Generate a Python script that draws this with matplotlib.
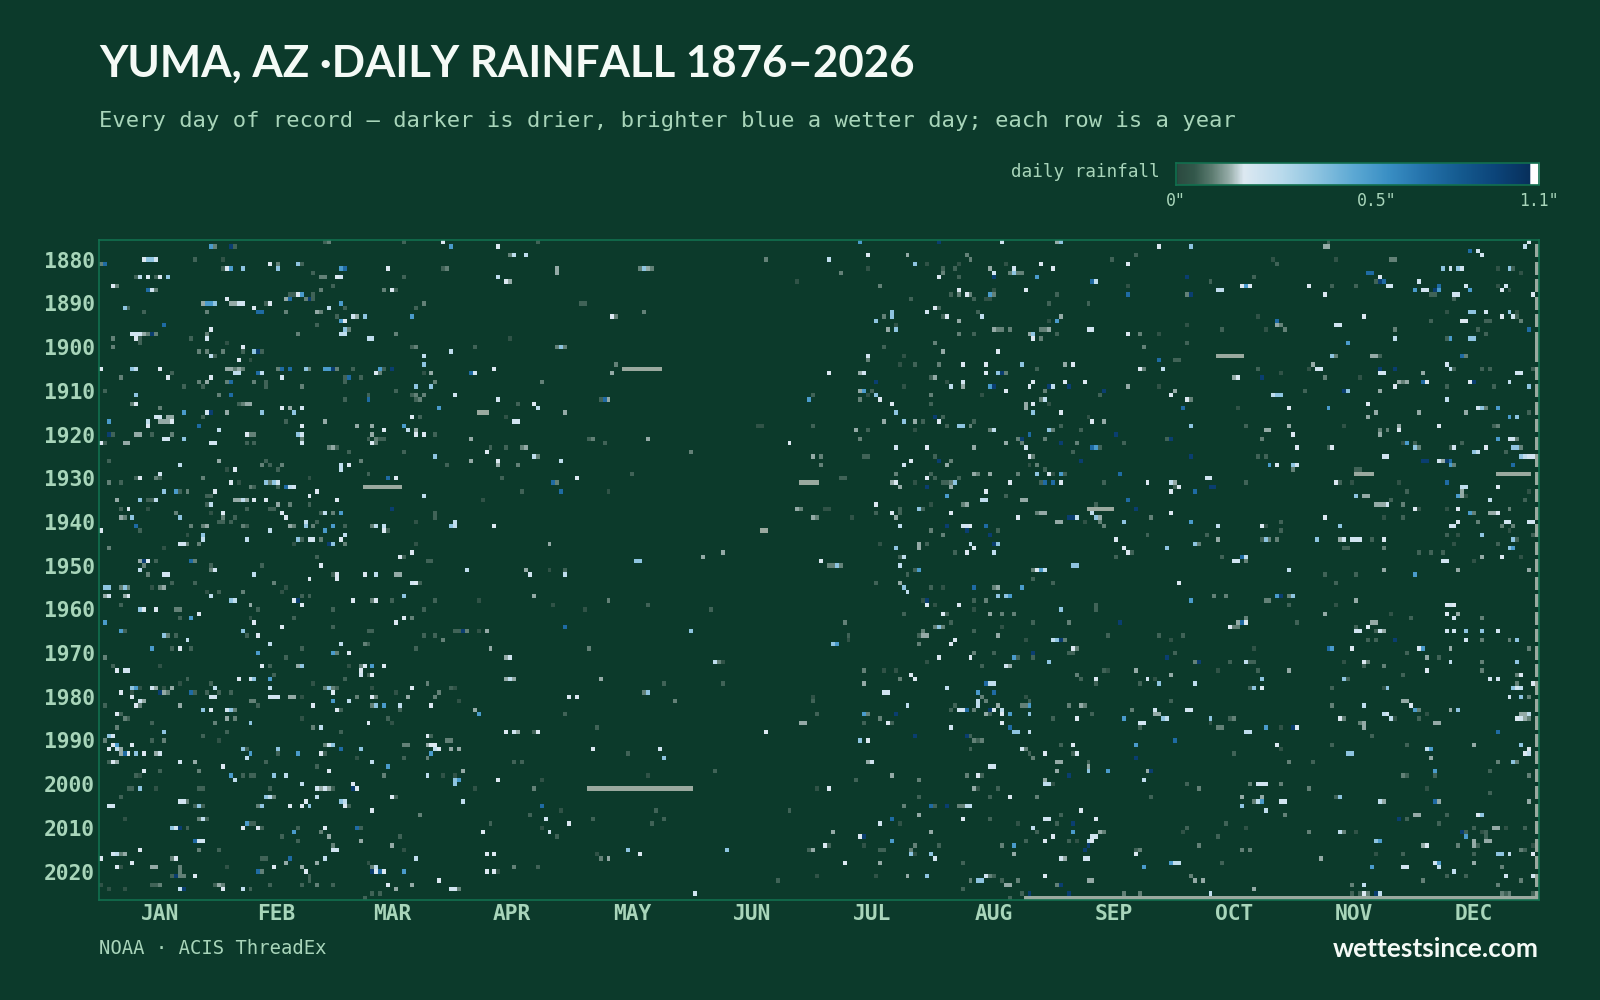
import calendar

import matplotlib
matplotlib.use("Agg")
import matplotlib.pyplot as plt
import numpy as np
from matplotlib.colors import LinearSegmentedColormap, PowerNorm

BG = "#0c3a2b"
FRAME = "#12704f"
MINT = "#a8d5ba"
MISSING = "#9aa99f"

F, D, G, S = 0.012, 0.03, 0.055, 0.085
W, P, L, K = 0.12, 0.15, 0.2, 0.32
M, B, N = 0.5, 0.72, 1.0

first_year = 1876
last_year = 2026
month_names = ["JAN", "FEB", "MAR", "APR", "MAY", "JUN", "JUL", "AUG", "SEP", "OCT", "NOV", "DEC"]
month_days = [31, 28, 31, 30, 31, 30, 31, 31, 30, 31, 30, 31]
year_ticks = list(range(1880, 2021, 10))

# each row: year, then day-of-year index and amount pairs
jan_mar = [
    (1876, 57,D, 58,G, 77,D),
    (1877, 28,M, 29,G, 33,N, 34,D),
    (1880, 11,W, 12,K, 13,K, 14,P, 24,D, 31,F),
    (1881, 0,G, 1,B, 43,W, 45,G, 50,K, 51,D),
    (1882, 31,D, 32,W, 33,M, 36,K, 45,K, 61,M, 62,B, 73,W),
    (1883, 54,D),
    (1884, 9,D, 10,L, 12,W, 14,D, 15,W, 17,K, 56,G, 57,G, 60,W, 61,P, 77,D),
    (1886, 3,W, 4,G, 59,D),
    (1887, 12,B, 13,P, 14,G, 56,G, 72,G, 74,W, 75,D),
    (1888, 48,D, 49,D, 50,W, 51,M, 54,D),
    (1889, 32,W, 47,S, 48,B, 52,G, 53,N, 54,D),
    (1890, 26,S, 27,M, 28,M, 29,K, 33,S, 34,S, 35,P, 36,P, 42,D, 43,W, 61,M, 82,G),
    (1891, 6,K, 7,D, 39,W, 58,L, 62,D, 80,D),
    (1892, 11,D, 27,G, 40,B, 41,B, 47,G, 55,S, 56,G),
    (1893, 60,D, 64,P, 65,S, 67,K, 79,M),
    (1894, 61,M, 62,W),
    (1895, 16,B, 55,D),
    (1896, 28,W, 62,K, 63,G),
    (1897, 8,P, 9,P, 10,P, 11,S, 12,G, 13,N, 14,G, 27,G, 50,G, 61,L, 62,L, 75,G),
    (1898, 3,G, 9,W, 10,D, 23,D, 27,P, 68,L, 69,L),
    (1899, 10,D, 32,F),
    (1900, 3,G, 36,W, 79,D, 80,G),
    (1901, 25,G, 27,G, 31,G, 36,D, 39,K, 40,N, 41,D),
    (1902, 28,L, 29,D, 82,L),
    (1903, 35,W, 38,F),
    (1904, 82,K),
    (1905, 0,W, 8,K, 9,L, 15,W, 32,S, 33,S, 34,G, 35,S, 36,G, 45,G, 46,B, 48,B, 52,K, 53,G,
     57,M, 58,M, 59,N, 60,G, 64,D, 71,M, 72,D, 74,N),
    (1906, 18,D, 34,L, 35,L, 40,B, 41,L, 70,W, 71,G, 82,F, 84,S),
    (1907, 5,G, 17,W, 28,W, 46,P, 62,D, 63,B, 66,D),
    (1908, 25,G, 27,S, 32,G, 33,B, 39,G, 42,D, 62,D, 85,G),
    (1909, 21,D, 26,D, 42,D, 51,G, 80,K, 84,K),
    (1910, 1,D, 75,D),
    (1911, 9,K, 30,G, 33,B, 68,D, 79,D, 80,G, 82,G),
    (1912, 62,D, 68,B, 80,D, 81,G),
    (1913, 8,G, 9,W, 35,D, 36,G, 37,S, 38,S),
    (1914, 15,G, 46,W, 48,S, 51,P, 86,B),
    (1915, 21,M, 27,P, 28,N, 32,S, 41,K, 49,K),
    (1916, 14,P, 15,P, 17,S, 18,S, 26,D, 79,W, 81,D),
    (1917, 2,M, 12,L, 15,S, 16,S, 17,S, 18,W, 47,D, 57,S),
    (1918, 12,W, 25,B, 51,W, 65,S, 69,S, 77,M),
    (1919, 30,L, 72,W, 78,L, 80,S),
    (1920, 2,N, 3,D, 9,S, 10,S, 13,D, 18,G, 37,W, 38,G, 39,G, 50,K, 51,P, 69,S, 80,W, 82,W, 85,D),
    (1921, 16,P, 17,P, 21,K, 51,G, 68,D, 70,G, 71,D, 72,D),
    (1922, 0,W, 1,D, 6,S, 7,S, 28,P, 29,P, 37,D, 39,D, 51,P, 69,W, 70,G),
    (1923, 58,G, 59,S, 60,D),
    (1924, 63,D, 77,D),
    (1925, 85,K),
    (1926, 2,D, 30,S, 42,D, 66,G),
    (1927, 20,L, 41,G, 43,D, 46,G, 61,L, 63,W),
    (1928, 32,F, 34,W, 45,D, 61,L),
    (1929, 15,P, 68,D),
    (1930, 9,D, 10,W, 14,G, 15,D, 26,G, 53,F, 73,B, 75,W),
    (1931, 2,G, 5,D, 33,W, 35,F, 42,K, 43,G, 44,K, 45,P),
    (1932, 38,G, 39,D, 45,D, 47,B, 48,L, 49,P),
    (1933, 16,K, 19,M, 20,D, 22,G, 29,W, 55,W),
    (1934, 27,D, 28,D, 53,W, 82,L),
    (1935, 4,S, 10,K, 12,D, 13,D, 14,L, 34,S, 35,S, 36,L, 37,S, 39,W, 42,W, 60,W),
    (1936, 27,D, 28,L, 45,S, 48,G, 53,D),
    (1937, 5,D, 7,W, 12,F, 37,D, 43,D, 44,D, 74,N),
    (1938, 19,G, 28,F, 31,W, 46,W, 56,D, 57,L, 59,G, 61,M, 85,D),
    (1939, 5,S, 6,G, 8,K, 20,K, 31,G, 34,D, 47,W, 85,D),
    (1940, 30,D, 31,D, 33,D, 52,L, 55,D, 80,F),
    (1941, 9,B, 23,G, 26,G, 27,S, 36,G, 37,D, 48,S, 49,G, 52,K, 54,G, 59,M, 62,D, 69,G, 70,L, 72,L),
    (1942, 0,W, 10,D, 43,L, 57,M, 72,W, 73,D),
    (1943, 22,F, 26,K, 62,L),
    (1944, 26,L, 37,L, 50,K, 51,D, 53,P, 54,P, 56,G, 61,W),
    (1945, 20,P, 21,P, 22,G, 25,G, 49,F, 58,N, 59,K, 62,G, 80,F),
    (1946, 2,G, 16,F),
    (1947, 79,W),
    (1948, 55,D, 76,W, 77,D),
    (1949, 10,S, 11,N, 12,W, 14,D, 23,B, 24,G, 83,D, 84,D),
    (1950, 11,G, 28,D, 41,D, 56,W),
    (1951, 10,L, 28,G, 29,P),
    (1952, 12,G, 16,P, 17,P, 39,L, 59,D, 60,W, 67,W, 70,L, 75,S, 76,S),
    (1953, 53,W, 60,W),
    (1954, 18,D, 24,D, 44,G, 79,P, 80,W, 81,D),
    (1955, 1,K, 2,K, 5,G, 6,K, 7,G, 13,F, 15,G, 16,S, 47,F),
    (1956, 27,F, 30,D, 36,G, 46,F),
    (1957, 1,S, 2,P, 6,S, 7,W, 28,L, 51,D, 53,D, 77,K),
    (1958, 33,K, 34,L, 49,W, 50,N, 64,W, 69,G, 70,W, 74,D, 85,D),
    (1959, 5,D, 38,S, 51,W),
    (1960, 10,K, 11,W, 14,W, 19,G, 20,G, 40,D, 59,D, 82,D),
    (1961, 25,W),
    (1962, 20,D, 23,M, 38,F, 49,D, 77,W, 79,G),
    (1963, 1,M, 39,W, 75,W),
    (1964, 46,W, 59,D),
    (1965, 5,M, 6,D, 36,K, 68,D, 69,D),
    (1966, 16,K, 17,G, 19,D, 37,D, 40,W, 82,D, 85,D),
    (1967, 22,L),
    (1968, 43,L, 61,L, 67,G, 68,D),
    (1969, 13,M, 18,D, 20,W, 23,D, 51,D, 80,D),
    (1970, 40,M, 59,M, 60,G, 63,W),
    (1971, 1,G, 47,D),
    (1973, 3,D, 15,F, 41,W, 43,D, 50,S, 51,K, 63,F, 66,G, 67,W, 69,M, 72,W),
    (1974, 4,W, 6,P, 7,P, 66,W),
    (1975, 44,D, 66,P, 68,D, 69,W),
    (1976, 22,D, 35,W, 38,P, 39,K, 43,M, 62,D),
    (1977, 20,F, 28,D, 54,F, 83,G),
    (1978, 8,K, 9,M, 10,F, 13,P, 14,S, 16,F, 18,S, 29,L, 43,L, 57,G, 58,K, 59,G, 60,D, 69,F, 79,W),
    (1979, 5,W, 8,F, 15,N, 16,S, 17,G, 23,B, 24,D, 27,D, 30,D, 33,D, 59,W, 75,F, 86,G),
    (1980, 8,W, 28,P, 29,P, 43,P, 44,P, 45,P, 48,S, 49,S, 51,F, 65,G, 69,W, 70,G, 78,S, 85,G),
    (1981, 10,P, 11,S, 38,G, 39,G, 59,M, 63,L),
    (1982, 1,D, 9,W, 10,G, 20,S, 40,D, 54,W, 69,G, 70,K, 72,M, 76,L, 84,W),
    (1983, 26,K, 28,W, 32,P, 33,K, 34,G, 60,W, 61,D, 76,D),
    (1984, 4,W, 5,D),
    (1985, 6,G, 7,D, 32,S, 34,G, 51,F, 73,D),
    (1986, 13,D, 29,G, 38,K, 68,W, 74,F),
    (1987, 4,G, 54,G, 56,L),
    (1988, 16,K, 32,D, 61,D),
    (1989, 2,K, 3,P, 26,D, 83,W, 84,D),
    (1990, 1,G, 13,D, 16,G, 30,F),
    (1991, 3,W, 4,M, 8,W, 57,G, 58,P, 59,K, 77,G, 78,G, 83,S, 84,W, 85,W),
    (1992, 2,W, 4,L, 5,S, 36,K, 37,D, 45,K, 61,B, 66,K, 85,L, 86,L),
    (1993, 5,S, 6,B, 7,W, 9,K, 11,W, 14,S, 15,P, 38,M, 45,D, 50,M, 56,W, 57,D, 84,M),
    (1994, 37,L, 65,F, 77,D, 83,G),
    (1995, 2,D, 3,W, 4,S, 20,P, 24,S, 42,D, 69,L),
    (1996, 31,W, 55,D, 73,M),
    (1997, 11,W, 15,D, 25,G, 58,W),
    (1998, 9,D, 10,F, 33,M, 36,D, 38,D, 39,D, 44,K, 47,L, 72,G, 83,L),
    (1999, 34,L),
    (2000, 51,L, 64,W),
    (2001, 7,D, 8,D, 10,K, 14,F, 25,D, 26,D, 43,D, 55,P, 56,S, 57,P, 58,S, 59,D, 64,N, 65,W),
    (2003, 5,D, 42,K, 43,L, 44,G, 55,L, 74,W, 75,D),
    (2004, 20,P, 21,P, 22,G, 52,W, 61,K, 62,L),
    (2005, 2,P, 3,P, 24,D, 25,K, 26,D, 40,G, 41,K, 48,W, 51,W, 53,K, 62,W, 63,D),
    (2006, 69,W),
    (2007, 81,G),
    (2008, 6,F, 25,G, 26,L, 27,D),
    (2009, 37,M, 38,D, 39,D),
    (2010, 18,K, 19,P, 20,N, 22,D, 36,W, 40,W, 41,D, 50,D, 57,W, 65,B, 66,D),
    (2011, 49,M, 56,G),
    (2012, 46,D, 58,S, 76,D),
    (2013, 24,B, 25,P, 26,P, 50,D, 66,S),
    (2014, 59,G, 74,S),
    (2015, 10,W, 25,G, 30,D, 59,P, 60,P, 77,F),
    (2016, 3,P, 4,L, 5,G, 6,S),
    (2017, 0,W, 18,G, 19,W, 41,D, 42,D, 48,B, 57,L, 80,L),
    (2018, 8,W, 47,S, 55,S, 68,F),
    (2019, 4,W, 5,F, 13,S, 14,S, 20,G, 32,F, 44,W, 51,S, 69,G, 70,L),
    (2020, 20,G, 40,B, 41,G, 52,W, 69,N, 70,W, 71,B, 72,W, 77,M),
    (2021, 18,D, 19,N, 20,G, 21,G, 24,W, 53,D),
    (2022, 53,D, 86,W),
    (2023, 0,F, 13,D, 14,D, 15,G, 29,D, 30,S, 31,G, 43,D, 51,D, 55,G, 59,D, 73,W, 79,S),
    (2024, 2,F, 6,F, 20,L, 21,N, 31,W, 36,L, 38,D, 75,S),
    (2025, 69,D, 71,D),
    (2026, 67,D),
]

apr_jul = [
    (1876, 87,W, 111,D, 193,M, 213,N),
    (1877, 89,M, 101,W),
    (1879, 104,G, 105,L, 108,L, 195,W, 205,S),
    (1880, 169,G, 185,L),
    (1881, 207,K, 210,F),
    (1882, 87,D, 88,G, 116,S, 137,G, 138,K, 139,S, 140,G, 195,F),
    (1883, 116,S, 188,G),
    (1884, 101,L, 213,W),
    (1885, 103,W, 104,S, 177,F),
    (1886, 198,G),
    (1889, 206,D),
    (1890, 122,D, 123,D),
    (1891, 212,W, 213,G),
    (1892, 138,G, 210,P, 201,K),
    (1893, 130,W, 131,G, 199,G, 201,K),
    (1894, 197,K),
    (1895, 202,F),
    (1896, 200,S, 202,K),
    (1898, 104,F),
    (1899, 212,G),
    (1900, 95,D, 116,G, 117,K, 118,G, 199,D),
    (1901, 89,L),
    (1902, 195,P, 204,F),
    (1903, 195,G),
    (1904, 131,G, 203,F, 207,D, 213,G),
    (1905, 100,W),
    (1906, 94,B, 95,P, 130,S, 185,W, 193,S, 194,P),
    (1907, 211,D, 212,S),
    (1908, 112,G, 197,N),
    (1909, 204,F),
    (1910, 193,S, 194,M, 196,D),
    (1911, 90,P, 181,D, 195,F, 197,K, 211,G),
    (1912, 101,P, 127,D, 128,B, 129,S, 180,M, 193,G, 198,W),
    (1913, 106,D, 110,W, 201,W, 211,D),
    (1914, 86,M, 111,L),
    (1915, 118,S, 202,K),
    (1916, 103,F, 212,N),
    (1917, 105,P, 106,P, 199,S, 204,K, 207,S, 209,D, 213,L),
    (1918, 167,F, 168,F, 181,D),
    (1919, 192,S, 195,D, 207,F),
    (1921, 94,S, 124,D, 125,G, 139,S, 193,G),
    (1922, 128,D, 175,W),
    (1923, 99,D, 103,D, 107,G, 108,S, 202,P, 210,W),
    (1924, 98,W, 150,G),
    (1925, 110,L, 111,G, 181,S, 183,G, 194,D, 195,D, 212,D),
    (1926, 94,S, 101,W, 117,L, 206,W, 213,N),
    (1927, 88,D, 101,S, 106,G, 183,G, 204,P),
    (1929, 135,D, 202,G, 211,D),
    (1930, 102,D, 121,W, 188,D, 189,D, 210,W, 212,D),
    (1931, 115,B, 116,G, 201,S, 202,W, 207,F),
    (1932, 203,S, 210,N),
    (1933, 107,D, 117,B, 129,F),
    (1935, 97,F),
    (1936, 197,W, 211,F),
    (1937, 177,S, 178,G, 184,F, 185,F, 203,D, 208,K, 209,D),
    (1938, 197,D, 201,W, 203,D),
    (1939, 181,S, 182,G, 191,F, 202,S),
    (1940, 90,L),
    (1941, 89,K, 90,L, 100,W, 203,L),
    (1942, 211,G),
    (1945, 114,S, 198,F, 208,S, 210,D),
    (1946, 202,K, 208,S),
    (1947, 158,S),
    (1948, 153,S, 203,D, 204,L),
    (1949, 136,K, 137,K, 183,W),
    (1950, 185,G, 186,G, 187,K, 188,G, 203,L),
    (1951, 93,L, 108,S, 114,F, 118,D, 207,D, 208,M),
    (1952, 109,P, 118,L, 205,D),
    (1954, 197,D, 203,S),
    (1955, 204,K, 211,D),
    (1956, 205,L),
    (1957, 110,S),
    (1958, 96,F, 129,G, 209,F, 210,N),
    (1959, 115,F, 139,D, 210,W, 212,F),
    (1960, 123,F, 155,D),
    (1961, 204,D),
    (1963, 189,G),
    (1964, 118,B, 212,G, 213,K),
    (1965, 90,D, 91,D, 92,N, 93,G, 96,F, 98,S, 150,K, 209,G),
    (1966, 190,D, 208,D, 209,S, 210,S),
    (1967, 87,G, 190,F),
    (1968, 186,K, 187,M, 208,G),
    (1969, 99,S, 124,G),
    (1971, 103,S, 104,P, 213,W),
    (1972, 156,L, 157,G, 158,F, 210,F),
    (1974, 194,G, 199,F, 202,F),
    (1975, 206,W),
    (1976, 103,S, 104,L, 105,S, 127,S, 203,G, 207,W),
    (1977, 143,D, 158,D, 194,S),
    (1978, 89,D, 90,F),
    (1979, 138,G, 139,K, 199,P, 200,P),
    (1980, 119,W, 121,W, 181,F),
    (1981, 91,F, 146,G, 181,D),
    (1982, 205,L),
    (1983, 95,S),
    (1984, 96,M, 118,D, 182,D, 194,M, 195,G, 202,N),
    (1985, 198,G),
    (1986, 178,S, 179,S, 194,D, 200,W, 201,D),
    (1987, 126,D),
    (1988, 103,W, 105,P, 106,S, 110,D, 111,W, 169,W),
    (1989, 207,N),
    (1990, 88,G, 89,G, 193,K, 195,W),
    (1992, 86,W, 89,S, 91,S, 125,W, 142,P),
    (1993, 134,D),
    (1994, 143,K),
    (1995, 105,D, 107,D, 195,S, 196,P),
    (1997, 92,S, 156,D),
    (1998, 87,F, 90,F, 139,F, 201,S),
    (1999, 90,K, 91,M, 101,W, 112,F, 192,D, 208,G),
    (2000, 90,K),
    (2001, 95,F, 110,G, 182,F, 185,W),
    (2003, 208,D),
    (2004, 92,L),
    (2005, 112,B, 204,G, 211,B, 212,D),
    (2006, 117,F, 141,D, 175,D),
    (2007, 109,D, 208,S),
    (2008, 113,P, 125,D, 143,D, 201,B),
    (2009, 99,D, 119,W, 140,D, 198,P, 203,F),
    (2010, 112,F),
    (2011, 97,W, 114,P, 186,S, 211,S),
    (2012, 116,D, 193,W, 194,N),
    (2013, 201,M),
    (2014, 184,W, 185,D, 194,F, 207,G, 213,D),
    (2015, 134,K, 159,K, 180,D, 181,S, 198,D, 199,D, 206,G),
    (2016, 98,W, 100,W, 126,F, 137,W, 206,K, 207,F, 211,K),
    (2017, 127,G, 129,S, 212,P),
    (2018, 189,W, 198,S),
    (2019, 105,G, 111,D),
    (2020, 98,W, 100,W, 101,F),
    (2021, 182,F, 197,F, 205,S, 210,K),
    (2022, 86,W, 172,D),
    (2024, 89,P, 90,P, 91,G),
    (2025, 151,P),
]

aug_nov = [
    (1876, 229,P, 243,S, 244,K, 312,D),
    (1877, 269,W, 277,K, 311,S, 312,S),
    (1879, 220,G, 263,D),
    (1880, 221,G, 257,D, 298,F, 314,F, 328,G, 329,G),
    (1881, 218,F, 230,F, 239,W, 261,W, 299,D),
    (1882, 214,D, 217,D, 226,S, 232,P, 242,W),
    (1883, 214,G, 227,P, 231,G, 232,K, 233,G, 234,G, 322,B, 323,B),
    (1884, 213,W, 218,D, 227,N, 238,M, 276,N, 293,D, 325,W),
    (1885, 252,B, 253,L, 282,D, 324,D, 325,N, 326,B, 335,W),
    (1886, 261,F, 290,W, 291,M, 292,W, 307,W, 313,D, 319,D, 327,P, 328,P, 340,M),
    (1887, 218,W, 227,F, 235,W, 284,L, 285,L, 334,M, 336,P, 337,P, 339,N, 340,M),
    (1888, 216,D, 218,G, 220,W, 221,G, 226,M, 227,G, 243,D, 261,B, 276,G, 277,N, 311,W, 338,D, 339,G),
    (1889, 222,D, 225,F, 226,F),
    (1890, 241,D, 251,D),
    (1891, 213,D),
    (1892, 223,D),
    (1893, 214,D, 215,W, 224,L, 244,S, 294,F, 321,W),
    (1894, 218,S, 241,F, 243,M, 299,B, 338,D),
    (1895, 276,F, 299,S, 300,G, 314,P, 315,P),
    (1896, 227,S, 228,G, 229,G, 231,G, 239,G, 240,G, 241,S, 251,P, 252,P, 285,D, 296,F, 301,G, 329,G),
    (1897, 218,G, 222,D, 236,S, 237,K, 243,D, 261,W, 264,G, 269,F),
    (1898, 237,W, 239,G, 329,L),
    (1899, 276,D, 317,M),
    (1900, 265,G),
    (1901, 214,S, 228,W),
    (1902, 313,K, 314,G, 323,S, 324,S, 325,D),
    (1903, 269,B, 273,D, 274,D),
    (1904, 213,G, 219,W, 225,W, 234,K, 245,S, 247,W, 308,S),
    (1905, 238,D, 264,W, 265,G, 270,L, 294,D, 307,F, 309,P, 310,P, 325,N, 329,N),
    (1906, 225,W, 228,K, 229,N, 230,G, 300,F, 325,P, 326,P, 336,S),
    (1907, 288,S, 289,W, 295,N, 311,G, 320,F),
    (1908, 215,F, 219,P, 237,W, 245,W, 250,W, 331,L, 332,S, 336,M, 337,W),
    (1909, 216,L, 219,S, 226,M, 227,N, 236,W, 241,N, 242,L, 246,N, 261,S, 269,F, 329,W),
    (1910, 230,W, 240,G, 255,N, 273,S, 306,D, 316,N, 317,K, 325,S),
    (1911, 224,F, 254,D, 272,W, 298,L, 299,K, 300,K),
    (1912, 239,G, 240,L, 276,W, 277,G),
    (1913, 235,S, 237,W, 241,F, 322,W),
    (1914, 235,S, 275,B, 289,F, 302,W, 312,M),
    (1915, 237,K, 244,W, 324,S, 335,S),
    (1916, 214,D, 251,F, 322,S),
    (1917, 213,W, 222,D, 252,W, 255,S),
    (1918, 215,D, 218,K, 219,K, 221,G, 244,D, 277,K, 291,D, 302,S, 316,F, 330,S, 340,W),
    (1919, 226,G, 227,L, 241,K, 242,G, 249,D, 296,S, 297,S, 325,G, 327,G, 330,W),
    (1920, 236,B, 258,N, 303,W, 325,S),
    (1921, 233,G, 234,N, 240,G, 271,D, 272,N, 295,G),
    (1922, 230,S, 234,G, 244,N, 248,G, 260,D, 331,D, 332,M, 334,S),
    (1923, 222,S, 235,P, 252,B, 253,M, 254,D, 304,W, 312,D, 313,W, 334,L, 335,S),
    (1924, 247,D),
    (1925, 236,W, 237,G, 277,N, 294,D, 296,D, 326,P, 327,P),
    (1926, 213,N, 216,G, 249,N, 336,N, 337,N, 340,G),
    (1927, 215,S, 236,F, 238,G, 297,M, 299,W, 303,K, 304,P),
    (1928, 240,D, 303,G, 319,D, 320,D),
    (1929, 222,S, 223,G, 226,S, 233,G, 238,K, 241,W, 242,F, 244,M, 245,D, 259,B),
    (1930, 218,D, 281,P, 282,P),
    (1931, 214,D, 215,D, 216,G, 217,K, 231,W, 239,D, 240,B, 242,B, 244,W, 255,D, 266,W, 272,L, 273,S,
     291,D, 314,W, 315,D, 318,F, 330,F),
    (1932, 216,S, 273,D, 274,W, 282,N, 283,N),
    (1933, 225,W, 272,W, 278,B, 332,D),
    (1934, 215,M, 230,D, 319,K, 321,S, 322,S),
    (1935, 224,L, 225,L, 234,S, 235,S, 261,B, 328,D),
    (1936, 219,G, 220,S, 253,D, 324,S, 325,S, 326,S, 327,P, 331,G),
    (1937, 263,N, 334,W, 335,F),
    (1938, 216,W, 238,G, 239,S, 240,S, 252,L, 272,W),
    (1939, 233,W, 246,N, 247,N, 248,L, 253,K, 254,S, 267,G, 311,W, 326,F, 331,D),
    (1940, 243,S, 244,S, 250,F, 254,G, 260,K, 277,M, 300,D),
    (1941, 215,N, 219,P, 220,P, 221,W, 225,B, 255,G, 284,L, 295,W, 296,F, 315,K),
    (1942, 220,N, 228,D, 300,D),
    (1943, 214,G, 226,N, 266,D, 281,D),
    (1944, 258,W, 284,S, 295,D, 296,K, 297,G, 299,G, 309,K, 315,S, 316,P, 318,P, 319,P, 320,P, 323,D, 326,W),
    (1945, 221,L, 227,N, 228,K, 278,K, 279,G),
    (1946, 222,W, 260,W, 271,K, 316,D, 317,D, 326,G),
    (1947, 217,D, 220,W, 227,L, 261,W, 262,D, 335,D, 338,D),
    (1948, 258,D, 285,D, 290,B, 291,L),
    (1949, 288,P, 289,P, 291,G),
    (1950, 247,K, 248,K),
    (1951, 237,G, 238,W, 239,M, 240,L, 302,L, 326,S),
    (1952, 311,D, 319,D, 334,M),
    (1953, 237,D),
    (1954, 242,D, 274,W, 314,D),
    (1955, 214,F, 222,B, 227,G, 228,S, 234,M),
    (1957, 228,K, 230,K, 231,M, 283,G, 286,G, 299,M, 300,N, 302,G, 303,K),
    (1958, 222,D, 225,G, 277,M, 296,G, 297,G, 319,S),
    (1959, 218,W, 253,D, 302,D, 314,F),
    (1960, 222,F, 244,K, 253,D),
    (1961, 214,W, 215,D, 226,S, 229,G, 232,G, 311,S, 328,F),
    (1962, 291,G, 333,D),
    (1963, 216,D, 237,D, 246,G, 259,N, 289,S, 290,B, 291,W, 304,D, 323,S, 324,S),
    (1964, 213,K, 214,G, 229,F, 287,W, 288,G, 289,G, 319,D, 322,W),
    (1965, 222,D, 319,P, 320,P, 324,D, 325,P, 326,S),
    (1966, 228,S, 256,D, 269,D, 275,D),
    (1967, 217,W, 235,F, 242,L, 243,K, 244,N, 245,G, 272,F, 322,D, 324,D, 329,N),
    (1968, 216,W),
    (1969, 247,W, 248,G, 293,F, 312,B, 313,M, 318,W, 335,W, 336,M),
    (1970, 222,G, 227,D, 237,N, 246,D, 247,D, 273,D, 332,D),
    (1971, 213,W, 221,W, 232,M, 233,D, 237,D, 271,N, 337,S, 340,D),
    (1972, 241,K, 278,G, 279,N, 287,D, 291,L, 292,D, 293,D, 316,F, 321,W, 322,G),
    (1973, 224,D, 230,P, 231,S, 321,D, 326,G),
    (1974, 255,D, 256,F, 263,S, 284,F, 294,D, 302,S, 337,W),
    (1975, 248,G, 272,S, 331,D),
    (1976, 249,D, 253,W, 266,P, 268,F, 295,K, 316,K, 317,D),
    (1977, 225,B, 226,L, 227,L, 253,D, 264,D, 269,K, 278,L),
    (1978, 215,L, 292,D, 293,K, 295,W, 313,D, 326,F, 327,K),
    (1979, 223,M, 227,B),
    (1980, 224,G, 235,F),
    (1981, 223,L, 225,G, 236,D, 272,D, 331,S, 332,S),
    (1982, 217,D, 223,L, 228,S, 234,G, 235,G, 236,M, 246,G, 249,S, 250,G, 313,G, 321,L, 333,W),
    (1983, 216,D, 218,P, 219,P, 220,B, 222,G, 226,N, 227,W, 229,L, 262,G, 268,P, 276,P, 277,P, 334,M, 335,G),
    (1984, 225,S, 226,D, 229,W, 231,M, 236,K, 252,D, 268,S, 269,S, 326,L, 327,P, 337,F),
    (1985, 242,D, 248,W, 260,M, 270,K, 271,L, 282,K, 287,D, 288,G, 315,W, 316,G, 328,L, 329,F, 335,D),
    (1986, 229,W, 264,P, 265,P, 282,F, 320,G, 321,S, 339,S, 340,S),
    (1987, 216,P, 231,B, 264,D, 284,G, 285,G, 296,M, 300,F, 303,N, 304,W, 321,S),
    (1988, 232,K, 233,K, 236,L, 291,L, 292,L),
    (1989, 220,N, 221,D, 323,D),
    (1990, 222,G, 223,D, 224,G, 273,B),
    (1991, 244,D, 247,W, 263,M, 299,W, 313,D, 332,D),
    (1992, 221,D, 234,P, 235,G, 300,F, 337,L, 338,M),
    (1993, 236,D, 240,W, 247,D, 248,W, 288,D, 317,K, 318,K),
    (1994, 237,G, 263,N, 338,S),
    (1995, 243,S, 244,S, 251,D, 302,G, 308,D),
    (1996, 226,P, 227,P, 251,S),
    (1997, 243,S, 251,K, 256,M, 266,S, 267,N, 339,M),
    (1998, 220,G, 223,W, 224,D, 246,N, 331,G, 332,D, 339,D),
    (1999, 240,S, 265,L),
    (2000, 240,L, 241,L, 242,F, 276,D, 292,G, 294,P, 295,P, 296,P, 300,G),
    (2001, 222,S, 223,F, 228,D, 279,G, 307,G, 337,F),
    (2003, 226,D, 231,W, 238,G, 267,D, 290,S, 295,S, 314,D, 315,K),
    (2004, 293,G, 294,L, 295,M, 300,P, 301,P, 325,L, 326,S, 339,B, 340,S),
    (2005, 215,N, 218,G, 219,G, 220,L, 221,L, 290,K),
    (2006, 249,W, 296,L),
    (2007, 244,D, 301,G, 334,S, 335,S),
    (2008, 219,W, 226,D, 240,P, 241,P, 253,W, 330,N, 332,D),
    (2009, 233,F, 243,D, 247,N, 286,D, 340,D),
    (2010, 237,L, 276,D, 291,F),
    (2011, 238,D, 247,M, 254,S, 255,G, 275,F, 307,G, 315,L, 316,G, 319,F),
    (2012, 242,W, 252,P, 253,P, 284,D),
    (2013, 235,D, 240,W, 246,D, 248,F, 251,L, 252,W, 324,K, 325,M),
    (2014, 213,D, 229,G, 232,M, 251,N, 279,G, 336,S, 337,W),
    (2015, 250,N, 263,D, 264,G, 290,G, 292,G),
    (2016, 232,S, 263,W, 324,F, 331,D),
    (2017, 244,P, 245,S, 250,P, 251,P, 310,S),
    (2018, 219,D, 272,M, 273,L, 274,L, 285,D, 339,P, 340,K),
    (2019, 265,M, 323,M, 331,P, 332,P, 340,L),
    (2021, 225,P, 226,G, 227,D, 240,W, 277,G),
    (2022, 221,G, 223,K, 224,K, 229,D, 233,G, 251,S, 252,S, 278,S, 280,S, 336,G),
    (2023, 230,S, 231,S, 243,G, 244,N, 318,G, 321,L),
    (2024, 219,D, 293,S),
    (2025, 234,D, 236,N, 246,N, 260,G, 264,G, 282,L, 318,D, 320,D, 321,W, 322,G, 324,N, 325,L),
    (2026, 231,D),
]

dec = [
    (1876, 363,W),
    (1877, 362,L),
    (1878, 348,B, 350,P),
    (1879, 351,P),
    (1882, 341,K, 343,P, 345,K, 346,P, 355,F, 358,K, 359,D),
    (1883, 361,F),
    (1885, 335,P),
    (1886, 340,B, 347,P, 355,F, 357,P),
    (1887, 348,M, 356,W, 358,F),
    (1888, 338,D, 339,D, 344,P, 345,P, 364,W),
    (1889, 344,D),
    (1892, 342,F, 348,K, 349,K, 352,P, 358,K, 360,F),
    (1893, 356,W, 359,P, 360,D),
    (1894, 338,D, 346,W, 347,W, 352,D, 353,D, 361,G),
    (1896, 350,D, 363,B),
    (1897, 352,D),
    (1898, 342,D, 343,M, 348,K, 349,K),
    (1902, 346,B, 347,G),
    (1904, 342,P),
    (1905, 343,L, 344,D, 351,D, 353,D, 364,D),
    (1906, 336,S, 360,P, 361,P),
    (1908, 330,S, 331,G, 336,B, 337,W, 348,W, 349,N, 358,L),
    (1909, 342,D, 354,D, 363,K),
    (1912, 342,L),
    (1914, 350,P, 351,K, 352,G, 355,M),
    (1915, 335,S, 347,S, 363,D),
    (1916, 358,M, 360,K),
    (1918, 340,W, 354,D, 355,G),
    (1921, 355,M, 358,P, 359,P, 360,G),
    (1922, 331,F, 332,M, 334,D, 346,D),
    (1923, 334,K, 335,G, 343,D, 344,P, 352,W, 359,K, 360,K, 361,G),
    (1924, 349,K, 350,L, 357,D),
    (1925, 361,K, 362,L, 363,P, 364,P),
    (1926, 336,N, 337,N, 340,P, 341,S, 342,N, 343,B),
    (1927, 343,M, 344,G, 359,B),
    (1931, 342,B),
    (1932, 346,L, 347,L, 355,W),
    (1933, 332,D, 346,S, 363,F),
    (1934, 345,M, 346,S, 347,F),
    (1935, 353,L, 362,D),
    (1936, 331,G),
    (1937, 334,W, 335,F, 342,F, 345,W, 358,G),
    (1938, 348,M, 349,G, 353,S, 354,S, 355,W),
    (1939, 331,D),
    (1940, 345,W, 350,G, 357,P, 358,P, 363,P, 364,P),
    (1941, 343,P, 344,P, 356,G, 359,G),
    (1942, 358,F),
    (1943, 342,D, 345,F, 351,K, 364,D),
    (1944, 359,K, 360,D),
    (1945, 344,F, 355,D),
    (1946, 358,K, 359,M),
    (1947, 335,D, 338,D, 341,D),
    (1948, 351,S, 356,W, 361,F),
    (1949, 341,P, 342,P, 349,F),
    (1951, 345,S, 363,S),
    # rough read from the overview, this part of December was not zoomed
    (1959, 342,W, 343,P, 344,W),
    (1961, 342,W, 345,S),
    (1962, 344,P, 351,G),
    (1965, 342,P, 344,P, 347,K, 351,K, 355,P),
    (1967, 347,P, 351,G, 358,G, 360,K),
    (1969, 343,S, 363,G),
    (1972, 343,L, 351,G, 360,K),
    (1974, 351,G),
    (1975, 360,G, 361,W),
    (1976, 353,P, 355,P),
    (1977, 364,W, 360,G),
    (1978, 359,K, 360,P, 361,L),
    (1980, 358,P, 361,K, 363,G),
    (1983, 343,S, 345,K),
    (1984, 361,S, 362,S, 363,L),
    (1985, 360,W, 361,P, 362,S, 363,G),
    (1988, 355,B),
    (1991, 349,S, 361,K),
    (1992, 363,W),
    (1993, 362,W, 363,L),
    (1995, 355,G, 359,K, 360,G),
    (1997, 353,D),
    (1998, 363,G),
    (2002, 353,D),
    (2004, 363,S),
    (2007, 342,D, 350,W, 351,K),
    (2009, 340,D),
    (2010, 349,D, 354,S, 355,S, 357,F, 362,D),
    (2011, 346,N, 347,D, 351,F, 352,D),
    (2012, 347,M, 352,D),
    (2013, 349,S, 352,S, 353,S),
    (2014, 345,G, 349,S, 350,D, 364,F),
    (2015, 361,G, 362,D),
    (2016, 349,D, 355,K, 356,K, 358,L, 364,W),
    (2018, 339,P, 340,M, 349,S),
    (2019, 356,G),
    (2020, 344,L),
    (2021, 342,D, 347,D, 357,P, 364,P),
    (2022, 336,G, 361,G),
    (2023, 355,G),
    (2025, 356,G, 357,D, 358,G, 364,D),
]

# (year, first day, last day) runs with no observations
missing_runs = [
    (1902, 284, 290), (1905, 133, 142), (1915, 96, 98), (1929, 319, 323), (1929, 355, 363),
    (1931, 178, 182), (1932, 67, 76), (1937, 251, 257), (1942, 168, 169), (2001, 124, 150),
    (2026, 235, 365),
]

n_years = last_year - first_year + 1
rain = np.zeros((n_years, 366))
for block in (jan_mar, apr_jul, aug_nov, dec):
    for row in block:
        rain[row[0] - first_year, list(row[1::2])] = row[2::2]

rain = np.ma.masked_invalid(rain)
for year, start, stop in missing_runs:
    rain[year - first_year, start:stop + 1] = np.ma.masked
# day 366 does not exist outside leap years
for year in range(first_year, last_year + 1):
    if not calendar.isleap(year):
        rain[year - first_year, 365] = np.ma.masked

stops = [
    (0.0, BG), (0.002, "#2c4a40"), (0.05, "#33584b"), (0.10, "#5d7c71"), (0.15, "#98aeaa"),
    (0.19, "#dde9f2"), (0.30, "#b8daec"), (0.40, "#8cc3e0"), (0.50, "#5da9d4"), (0.60, "#3a8fc4"),
    (0.70, "#2472ab"), (0.80, "#155b90"), (0.90, "#0c457a"), (1.0, "#08305c"),
]
cmap = LinearSegmentedColormap.from_list("rain", stops, N=512)
cmap.set_bad(MISSING)
cmap.set_over("white")
norm = PowerNorm(0.75, vmin=0, vmax=1.1)

plt.rcParams["font.family"] = "DejaVu Sans Mono"
fig = plt.figure(figsize=(16, 10), dpi=100, facecolor=BG)

fig.text(99 / 1600, 1 - 77 / 1000, "YUMA, AZ ·DAILY RAINFALL 1876–2026", family="Lato", fontweight="bold",
         fontsize=31.5, color="#f4faf6", ha="left", va="baseline")
fig.text(99 / 1600, 1 - 127 / 1000,
         "Every day of record — darker is drier, brighter blue a wetter day; each row is a year",
         fontsize=15.95, color=MINT, ha="left", va="baseline")

ax = fig.add_axes([99 / 1600, 1 - 900 / 1000, 1440 / 1600, 660 / 1000], facecolor=BG)
ax.imshow(rain, cmap=cmap, norm=norm, aspect="auto", interpolation="nearest",
          extent=(-0.5, 365.5, last_year + 0.5, first_year - 0.5))
for side in ax.spines.values():
    side.set_color(FRAME)
    side.set_linewidth(1.2)
month_starts = np.cumsum([0] + month_days[:-1])
ax.set_xticks(month_starts + np.array(month_days) / 2 - 0.5, month_names)
ax.set_yticks(year_ticks, [str(y) for y in year_ticks])
ax.tick_params(axis="x", length=0, labelcolor=MINT, labelsize=15.3, pad=3)
ax.tick_params(axis="y", length=0, labelcolor=MINT, labelsize=15.3, pad=3)
for lab in ax.get_xticklabels() + ax.get_yticklabels():
    lab.set_fontweight("bold")

# legend strip, the last sliver past 1.1" is the white overflow block
cax = fig.add_axes([1175.5 / 1600, 1 - 185 / 1000, 363.5 / 1600, 22 / 1000], facecolor=BG)
strip = np.linspace(0, 1.027, 600)[None, :]
cax.imshow(strip, cmap=cmap, vmin=0, vmax=1, aspect="auto", extent=(0, 1.027, 0, 1))
for side in cax.spines.values():
    side.set_color(FRAME)
    side.set_linewidth(1.2)
cax.set_yticks([])
cax.set_xticks([0, 1.027 * float(norm(0.5)), 1.027], ['0"', '0.5"', '1.1"'])
cax.tick_params(length=0, labelcolor=MINT, labelsize=11.9, pad=5)
fig.text(1160 / 1600, 1 - 177 / 1000, "daily rainfall", fontsize=12.7, color=MINT, ha="right", va="baseline")

fig.text(99 / 1600, 1 - 954 / 1000, "NOAA · ACIS ThreadEx", fontsize=13.6, color=MINT, ha="left", va="baseline")
fig.text(1539 / 1600, 1 - 957 / 1000, "wettestsince.com", family="Lato", fontweight="bold", fontsize=18.9,
         color="#f4faf6", ha="right", va="baseline")

fig.savefig("out.png", dpi=100, facecolor=BG)
plt.close(fig)
